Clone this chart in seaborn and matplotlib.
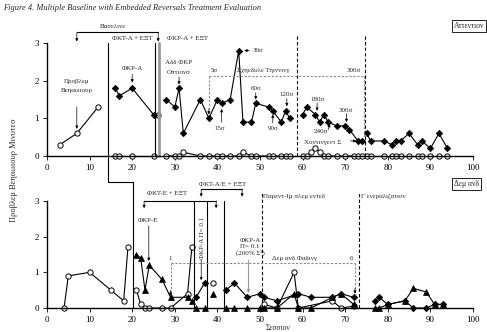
import numpy as np
import pandas as pd
import matplotlib
matplotlib.use("Agg")
import matplotlib.pyplot as plt
import seaborn as sns

sns.set_theme(style="white")
plt.rcParams['font.family'] = ['Liberation Serif', 'DejaVu Serif']

# ---------------- DATA ----------------
# top panel: open circles
top_open_x = [3, 7, 12, 16, 17, 20, 25, 26,
              28, 30, 31, 32, 36, 38, 40, 41, 43, 45, 46, 48, 49, 52, 53, 55, 56, 57,
              60, 61, 62, 63, 64, 65, 66, 68, 70, 72, 73, 74,
              75, 76, 79, 81, 82, 83, 85, 87, 88, 90, 92, 94]
top_open_y = [0.3, 0.6, 1.3, 0, 0, 0, 0, 1.1,
              0, 0, 0, 0.1, 0, 0, 0, 0, 0, 0, 0.1, 0, 0, 0, 0, 0, 0, 0,
              0, 0, 0.1, 0.2, 0.1, 0, 0, 0, 0, 0, 0, 0,
              0, 0, 0, 0, 0, 0, 0, 0, 0, 0, 0, 0]
top_open_phase = ["BL"] * 3 + ["T1"] * 4 + ["R1"] + ["T2"] * 18 + ["P"] * 12 + ["G"] * 12

# top panel: filled diamonds
top_fill_x = [16, 17, 20, 25,
              28, 30, 31, 32, 36, 38, 40, 41, 43, 45, 46, 48, 49, 52, 53, 55, 56, 57,
              60, 61, 63, 64, 65, 66, 68, 70, 71, 73, 74,
              75, 76, 79, 81, 82, 83, 85, 87, 88, 90, 92, 94]
top_fill_y = [1.8, 1.6, 1.8, 1.1,
              1.5, 1.3, 1.8, 0.6, 1.5, 1.0, 1.5, 1.4, 1.5, 2.8, 0.9, 0.9, 1.4, 1.3, 1.2, 0.9, 1.2, 1.0,
              1.1, 1.3, 1.1, 0.9, 1.1, 0.9, 0.8, 0.8, 0.7, 0.4, 0.4,
              0.6, 0.4, 0.4, 0.3, 0.4, 0.4, 0.6, 0.3, 0.4, 0.2, 0.6, 0.2]
top_fill_phase = ["T1"] * 4 + ["T2"] * 18 + ["P"] * 11 + ["G"] * 12

# bottom panel: open circles
bot_open_x = [4, 5, 10, 15, 18, 19, 21, 22, 23, 24, 27, 29, 33, 34, 39, 51, 54, 58, 59, 67, 69, 72]
bot_open_y = [0, 0.9, 1.0, 0.5, 0.2, 1.7, 0.5, 0.1, 0, 0, 0, 0, 0.4, 1.7, 0.7, 0.1, 0, 1.0, 0, 0.2, 0, 0.05]
bot_open_phase = ["BL"] * 6 + ["T1"] * 8 + ["R"] + ["P"] * 7

# bottom panel: filled triangles
bot_tri_x = [21, 22, 23, 24, 27, 29, 33, 34, 35, 37, 39, 42, 44, 47, 50,
             51, 54, 58, 59, 62, 67, 69, 72, 77, 78, 80, 84, 86, 89, 91, 93]
bot_tri_y = [1.5, 1.4, 0.5, 1.2, 0.8, 0.3, 0.3, 0.2, 0, 0, 0.4, 0, 0, 0, 0,
             0, 0, 0.4, 0, 0, 0.3, 0.4, 0.1, 0, 0, 0.1, 0.2, 0.55, 0.45, 0.1, 0.1]
bot_tri_phase = ["T1"] * 8 + ["T2"] * 2 + ["R"] + ["T3"] * 4 + ["P"] * 8 + ["G"] * 8

# bottom panel: filled diamonds
bot_fill_x = [35, 37, 42, 44, 47, 50, 51, 54, 59, 62, 67, 69, 72, 77, 78, 80, 84, 86, 89, 91, 93]
bot_fill_y = [0.3, 0.7, 0.5, 0.7, 0.3, 0.4, 0.3, 0.2, 0.4, 0.3, 0.3, 0.4, 0.3,
              0.2, 0.3, 0.1, 0.2, 0, 0, 0.1, 0.1]
bot_fill_phase = ["T2"] * 2 + ["T3"] * 4 + ["P"] * 7 + ["G"] * 8

x_ticks = [0, 10, 20, 30, 40, 50, 60, 70, 80, 90, 100]
y_ticks = [0, 1, 2, 3]

# ---------------- FIGURE ----------------
fig = plt.figure(figsize=(4.87, 3.32), dpi=100)
fig.patch.set_facecolor("white")
ax1 = fig.add_axes([47 / 487, 1 - 156 / 332, 426 / 487, 113 / 332])
ax2 = fig.add_axes([47 / 487, 1 - 308 / 332, 426 / 487, 107 / 332])

styles = {
    "open": dict(marker="o", markersize=3.8, markerfacecolor="white", markeredgecolor="black", markeredgewidth=0.7),
    "dia": dict(marker="D", markersize=3.3, markerfacecolor="black", markeredgecolor="black", markeredgewidth=0.5),
    "tri": dict(marker="^", markersize=4.0, markerfacecolor="black", markeredgecolor="black", markeredgewidth=0.5),
}


def draw(ax, xs, ys, ph, kind):
    df = pd.DataFrame({"x": xs, "y": ys, "phase": ph})
    sns.lineplot(data=df, x="x", y="y", units="phase", estimator=None, sort=False,
                 color="black", lw=0.8, clip_on=False, legend=False, ax=ax, **styles[kind])


draw(ax1, top_open_x, top_open_y, top_open_phase, "open")
draw(ax1, top_fill_x, top_fill_y, top_fill_phase, "dia")
draw(ax2, bot_open_x, bot_open_y, bot_open_phase, "open")
draw(ax2, bot_tri_x, bot_tri_y, bot_tri_phase, "tri")
draw(ax2, bot_fill_x, bot_fill_y, bot_fill_phase, "dia")

for ax in (ax1, ax2):
    ax.set_xlim(0, 100)
    ax.set_ylim(0, 3)
    ax.set_xticks(x_ticks)
    ax.set_yticks(y_ticks)
    ax.set_xlabel("")
    ax.set_ylabel("")
    ax.set_facecolor("none")
    for s in ["top", "right"]:
        ax.spines[s].set_visible(False)
    for s in ["left", "bottom"]:
        ax.spines[s].set_color("black")
        ax.spines[s].set_linewidth(1.0)
    ax.tick_params(axis="both", direction="out", length=3, width=0.6, colors="black",
                   labelsize=6.5, pad=3, left=True, bottom=True)

fs = 5
arw = dict(arrowstyle="-|>", lw=0.5, color="black", mutation_scale=4, shrinkA=0, shrinkB=0)
garw = dict(arrowstyle="-|>", lw=0.8, color="#999999", mutation_scale=4, shrinkA=0, shrinkB=0)


def arrow(ax, x0, y0, x1, y1, props=arw):
    ax.annotate("", xy=(x1, y1), xytext=(x0, y0), arrowprops=props, annotation_clip=False)


# ---- top panel phase lines ----
ax1.plot([25.4, 25.4], [0, 3], color="black", lw=0.8, clip_on=False)
ax1.plot([26.4, 26.4], [0, 3], color="#999999", lw=2.0, clip_on=False)
ax1.plot([58.6, 58.6], [0, 3.22], color="black", lw=0.8, ls=(0, (3, 2)), clip_on=False)
ax1.plot([74.7, 74.7], [0, 3.22], color="black", lw=0.8, ls=(0, (3, 2)), clip_on=False)

# baseline bracket
ax1.plot([7, 26.1], [3.28, 3.28], color="black", lw=0.8, clip_on=False)
arrow(ax1, 7, 3.28, 7, 3.04)
arrow(ax1, 26.1, 3.28, 26.1, 3.04)
ax1.text(15.5, 3.36, "Βασελινε", fontsize=fs, ha="center", va="bottom")
ax1.text(20, 3.13, "ΦΚΤ-Α + ΕΞΤ", fontsize=fs, ha="center", va="center")
ax1.text(28.2, 3.13, "ΦΚΡ-Α + ΕΞΤ", fontsize=fs, ha="left", va="center")

ax1.text(20, 2.33, "ΦΚΡ-Α", fontsize=fs, ha="center", va="center")
arrow(ax1, 20, 2.17, 20, 1.95)
ax1.text(7, 1.99, "Προβλεμ", fontsize=fs, ha="center", va="center")
ax1.text(7, 1.75, "Βεηαωιουρ", fontsize=fs, ha="center", va="center")
arrow(ax1, 7, 1.3, 7, 0.72)
ax1.text(31, 2.47, "Αδδ ΦΚΡ", fontsize=fs, ha="center", va="center")
ax1.text(31, 2.23, "Οπτιονσ", fontsize=fs, ha="center", va="center")
arrow(ax1, 31, 2.1, 31, 1.9)

# schedule thinning
gls = dict(color="#888888", lw=0.8, ls=(0, (2, 1.5)), clip_on=False)
ax1.plot([38, 74.3], [2.12, 2.12], **gls)
ax1.plot([38, 38], [2.12, 1.2], **gls)
arrow(ax1, 38, 1.25, 38, 1.1)
ax1.plot([74.3, 74.3], [2.12, 0.5], **gls)
ax1.text(38.3, 2.2, "5σ", fontsize=fs, ha="left", va="bottom")
ax1.text(44.6, 2.2, "Σχηεδυλε Τηιννινγ", fontsize=fs, ha="left", va="bottom")
ax1.text(73.8, 2.2, "300σ", fontsize=fs, ha="right", va="bottom")

ax1.text(40.5, 0.72, "15σ", fontsize=fs, ha="center", va="center")
arrow(ax1, 41, 0.9, 41, 1.25)
ax1.annotate("30σ", xy=(46.3, 2.8), xytext=(48.3, 2.8), fontsize=fs, va="center",
             arrowprops=arw, annotation_clip=False)
ax1.text(49, 1.78, "60σ", fontsize=fs, ha="center", va="center")
arrow(ax1, 49, 1.68, 49, 1.5)
ax1.text(53, 0.74, "90σ", fontsize=fs, ha="center", va="center")
arrow(ax1, 53, 0.88, 53, 1.1)
ax1.text(56.2, 1.62, "120σ", fontsize=fs, ha="center", va="center")
arrow(ax1, 56.3, 1.52, 56.3, 1.32)
ax1.text(63.4, 1.51, "180σ", fontsize=fs, ha="center", va="center")
arrow(ax1, 63.4, 1.41, 63.4, 1.2)
ax1.text(64.3, 0.64, "240σ", fontsize=fs, ha="center", va="center")
arrow(ax1, 66, 0.7, 66.4, 0.85)
ax1.text(70.2, 1.22, "300σ", fontsize=fs, ha="center", va="center")
arrow(ax1, 70.3, 1.12, 70.3, 0.9)
ax1.text(64.6, 0.36, "Χοντινγεντ Σ", fontsize=fs, ha="center", va="center")
arrow(ax1, 71.2, 0.4, 72.6, 0.4)

# ---- bottom panel ----
# step line linking the panels
ax2.plot([14.4, 14.4, 20.3, 20.3], [7.42, 3.53, 3.53, 0], color="black", lw=0.8, clip_on=False)
for xv in [34.6, 37.6, 41.5]:
    ax2.plot([xv, xv], [0, 3.0], color="black", lw=0.8, clip_on=False)
ax2.plot([50.4, 50.4], [0, 3.22], color="black", lw=0.8, ls=(0, (3, 2)), clip_on=False)
ax2.plot([73.3, 73.3], [0, 3.22], color="black", lw=0.8, ls=(0, (3, 2)), clip_on=False)

ax2.plot([22.8, 39.7], [3.0, 3.0], color="black", lw=0.8, clip_on=False)
arrow(ax2, 22.8, 3.0, 22.8, 2.8)
arrow(ax2, 39.7, 3.0, 39.7, 2.8)
ax2.text(28.2, 3.22, "ΦΚΤ-Ε + ΕΞΤ", fontsize=fs, ha="center", va="center")
ax2.plot([36.2, 45.8], [3.33, 3.33], color="black", lw=0.8, clip_on=False)
arrow(ax2, 36.2, 3.33, 36.2, 3.12)
arrow(ax2, 45.8, 3.33, 45.8, 3.12)
ax2.text(41.1, 3.47, "ΦΚΤ-Α/Ε + ΕΞΤ", fontsize=fs, ha="center", va="center")

ax2.text(23.8, 2.46, "ΦΚΡ-Ε", fontsize=fs, ha="center", va="center")
arrow(ax2, 23.9, 2.3, 23.9, 1.32)
ax2.text(36.6, 1.96, "ΦΚΡ-Α Π= 0.1", fontsize=fs, ha="center", va="center", rotation=90)
arrow(ax2, 36.2, 1.34, 36.2, 0.78)
ax2.text(47.7, 1.7, "ΦΚΡ-Α\nΠ= 0.1\n(200% Σ²)", fontsize=fs, ha="center", va="center",
         linespacing=1.2)
arrow(ax2, 47.3, 1.34, 47.3, 0.42, garw)

ax2.text(50.8, 3.14, "Παρεντ-Ιμ πλεμ εντεδ", fontsize=fs, ha="left", va="center")
ax2.text(73.7, 3.14, "Γ ενεραλιζατιον", fontsize=fs, ha="left", va="center")

ax2.plot([29, 72.3], [1.26, 1.26], **gls)
ax2.plot([29, 29], [1.26, 0.45], **gls)
arrow(ax2, 29, 0.5, 29, 0.34)
ax2.plot([72.3, 72.3], [1.26, 0.5], **gls)
arrow(ax2, 72.3, 0.55, 72.3, 0.4)
ax2.text(29, 1.33, "1", fontsize=fs, ha="center", va="bottom")
ax2.text(72, 1.33, "6", fontsize=fs, ha="right", va="bottom")
ax2.text(58.2, 1.38, "Δεμ ανδ Φαδινγ", fontsize=fs, ha="center", va="center")

# ---- figure texts ----
fig.text(3 / 487, 1 - 8 / 332, "Figure 4. Multiple Baseline with Embedded Reversals Treatment Evaluation",
         fontsize=6, style="italic", ha="left", va="center")
box = dict(boxstyle="square,pad=0.25", fc="white", ec="black", lw=0.6)
fig.text(454 / 487, 1 - 26 / 332, "Αττεντιον", fontsize=5.5, ha="left", va="center", bbox=box)
fig.text(454 / 487, 1 - 184 / 332, "Δεμ ανδ", fontsize=5.5, ha="left", va="center", bbox=box)
fig.text(14 / 487, 1 - 170 / 332, "Προβλεμ Βεηαωιουρ Μινυτεσ", fontsize=6, rotation=90,
         ha="center", va="center")
fig.text(278 / 487, 1 - 328 / 332, "Σεσσιον", fontsize=5.5, ha="center", va="center")

fig.savefig("out.png", dpi=100, facecolor="white")
